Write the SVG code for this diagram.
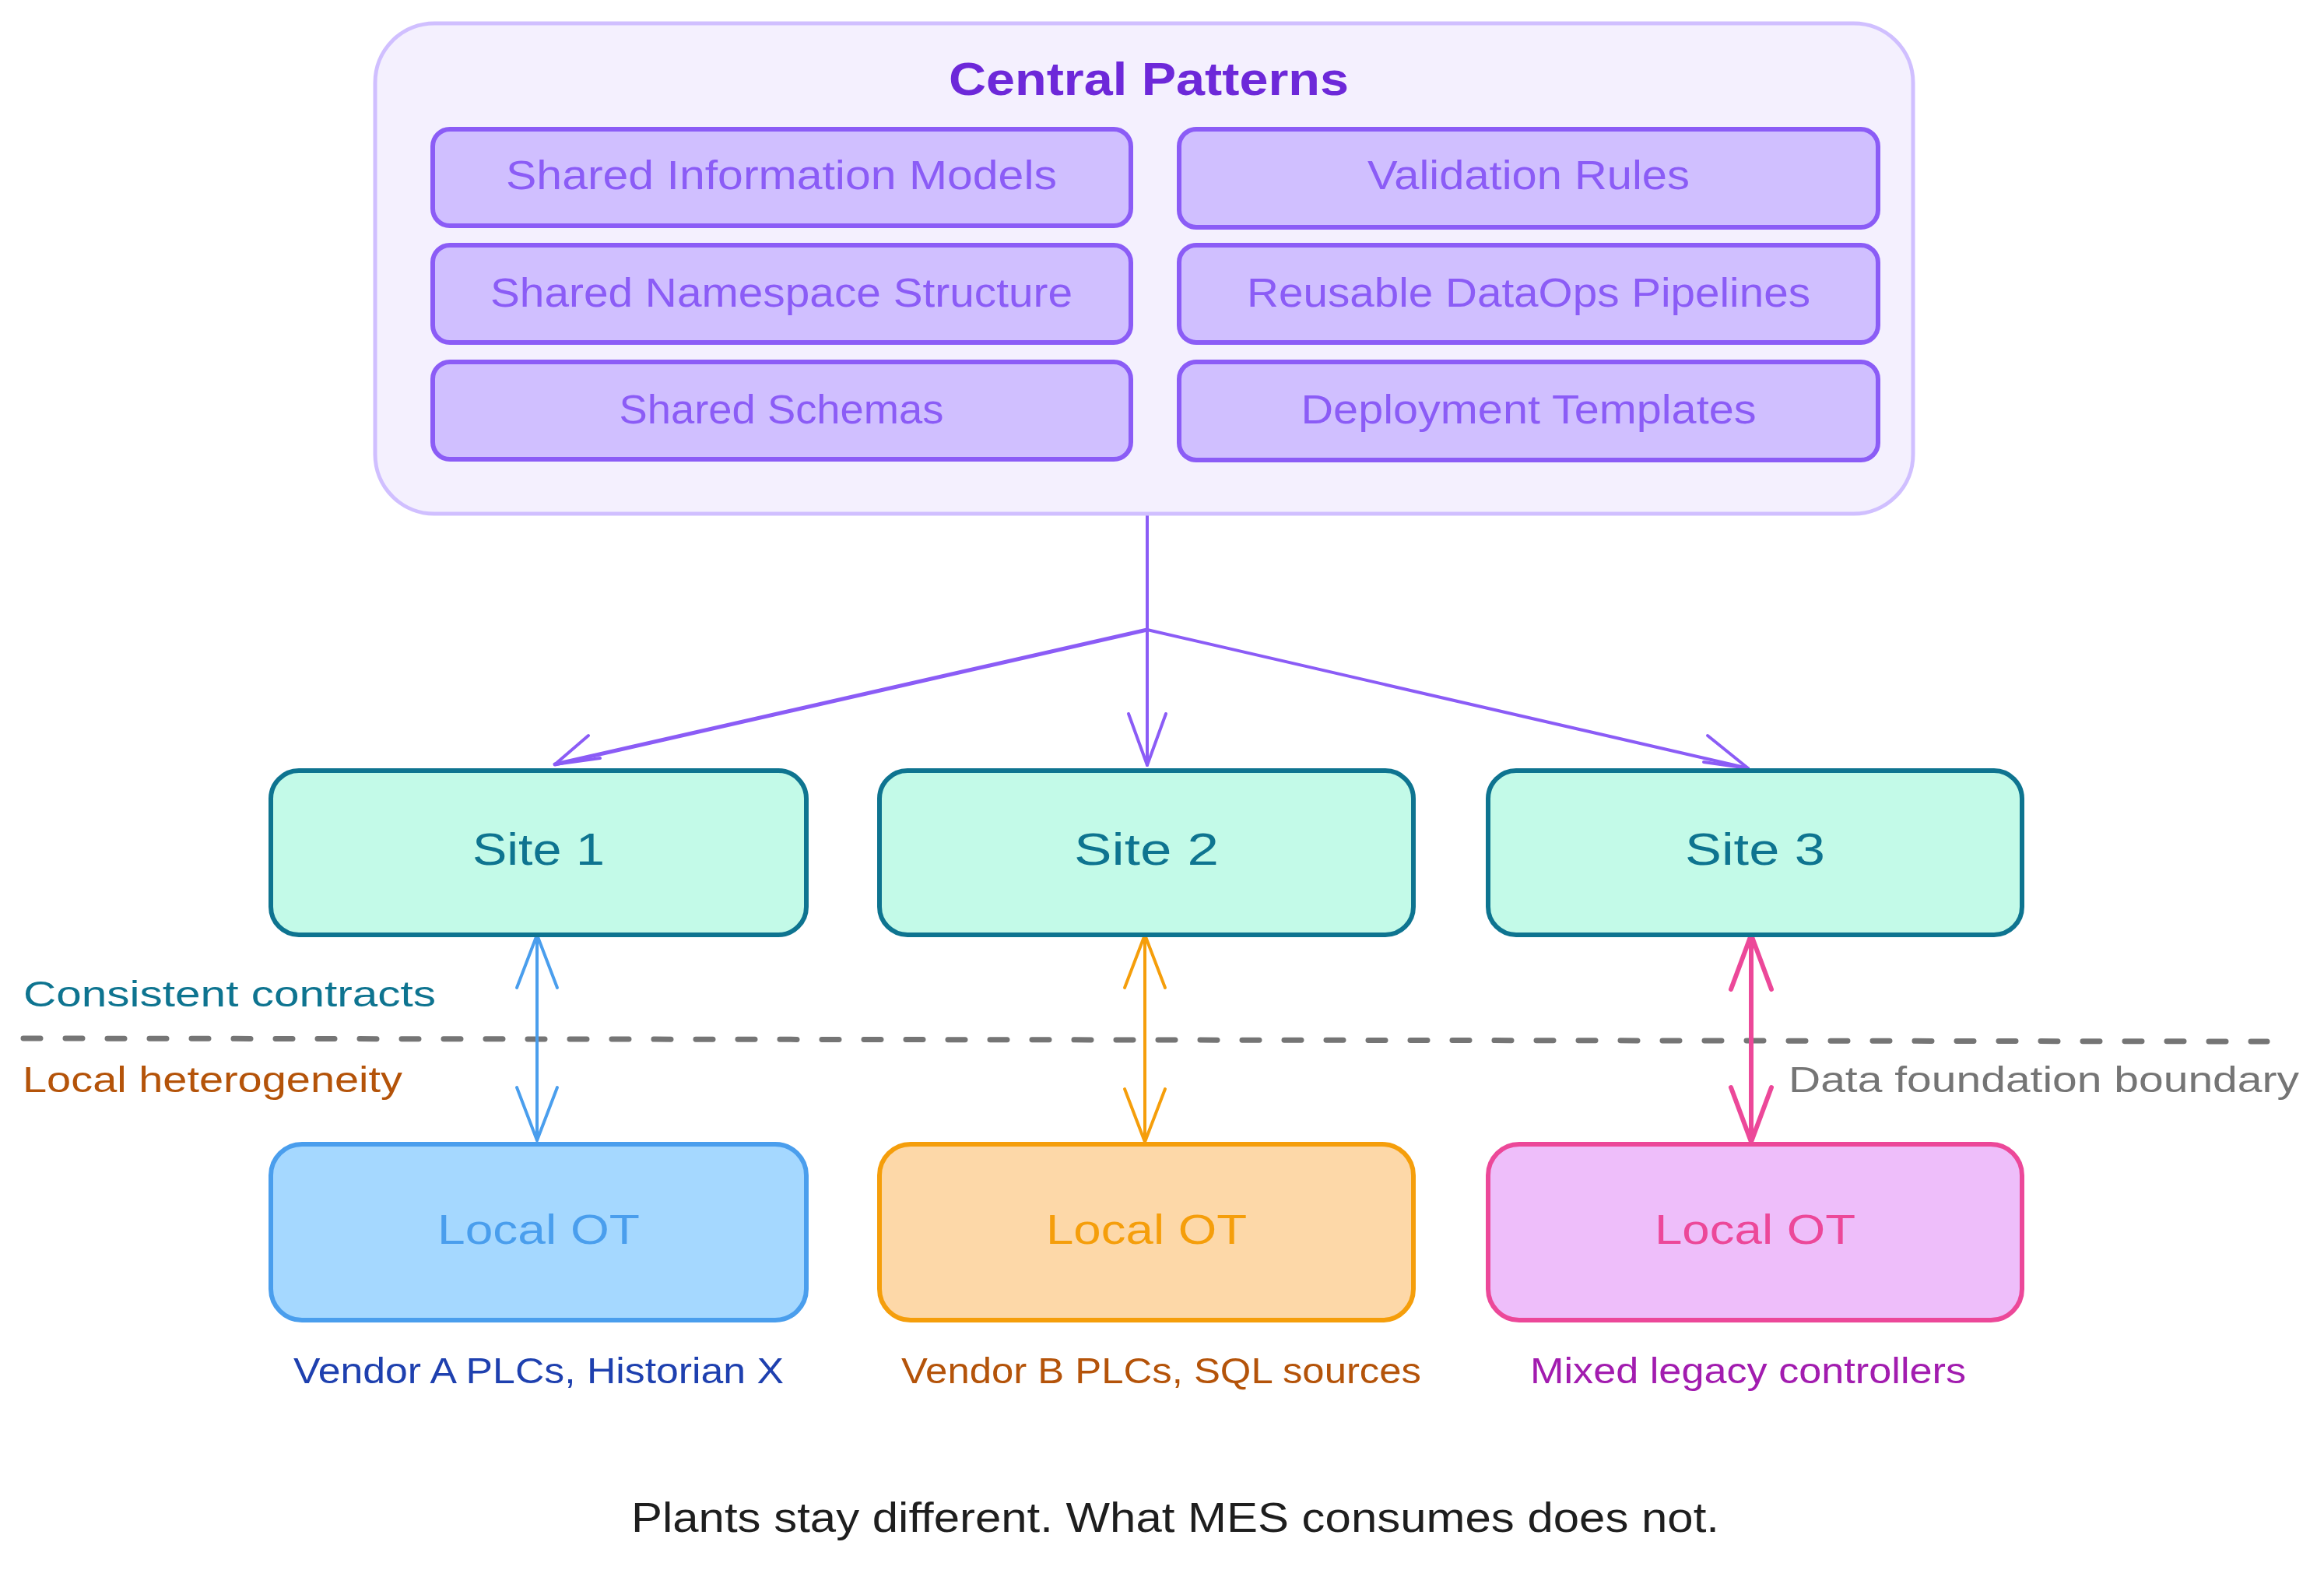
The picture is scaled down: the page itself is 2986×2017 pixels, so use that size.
<svg xmlns="http://www.w3.org/2000/svg" width="2986" height="2017" viewBox="0 0 2986 2017">
<defs>
<style>
text{font-family:"Liberation Sans","Noto Sans",sans-serif;text-anchor:middle}
.outer{fill:#f4f0fe;stroke:#d0bfff;stroke-width:5}
.pat{fill:#d0bfff;stroke:#8b5cf6;stroke-width:6}
.pat-t{fill:#8b5cf6;font-size:51px}
.site{fill:#c3fae8;stroke:#0e7490;stroke-width:6}
.site-t{fill:#0e7490;font-size:57px}
.ot-t{font-size:54px}
.cap{font-size:46px}
.conn{fill:none;stroke-linecap:round;stroke-linejoin:round}
</style>
<marker id="ah-p" markerUnits="userSpaceOnUse" viewBox="-80 -40 90 80" refX="0" refY="0" markerWidth="90" markerHeight="80" orient="auto-start-reverse"><path d="M-66,-24 L0,0 L-66,24" fill="none" stroke="#8b5cf6" stroke-width="4" stroke-linecap="round" stroke-linejoin="round"/></marker>
<marker id="ah-b" markerUnits="userSpaceOnUse" viewBox="-80 -40 90 80" refX="0" refY="0" markerWidth="90" markerHeight="80" orient="auto-start-reverse"><path d="M-68,-26 L0,0 L-68,26" fill="none" stroke="#4a9eed" stroke-width="4" stroke-linecap="round" stroke-linejoin="round"/></marker>
<marker id="ah-o" markerUnits="userSpaceOnUse" viewBox="-80 -40 90 80" refX="0" refY="0" markerWidth="90" markerHeight="80" orient="auto-start-reverse"><path d="M-68,-26 L0,0 L-68,26" fill="none" stroke="#f59e0b" stroke-width="4" stroke-linecap="round" stroke-linejoin="round"/></marker>
<marker id="ah-k" markerUnits="userSpaceOnUse" viewBox="-80 -40 90 80" refX="0" refY="0" markerWidth="90" markerHeight="80" orient="auto-start-reverse"><path d="M-70,-26 L0,0 L-70,26" fill="none" stroke="#ec4899" stroke-width="6" stroke-linecap="round" stroke-linejoin="round"/></marker>
</defs>
<rect width="2986" height="2017" fill="#ffffff"/>

<g id="boundary">
<line x1="30" y1="1334" x2="2913" y2="1338" stroke="#757575" stroke-width="7" stroke-dasharray="22 32" stroke-linecap="round"/>
</g>

<g id="connectors">
<path class="conn" d="M1474,659 L1474,809" stroke="#8b5cf6" stroke-width="4"/>
<path class="conn" d="M1474,809 L713,982" stroke="#8b5cf6" stroke-width="5"/>
<path class="conn" d="M756,945 L713,982 L771,974" stroke="#8b5cf6" stroke-width="4"/>
<path class="conn" d="M1474,809 L1474,983" stroke="#8b5cf6" stroke-width="4" marker-end="url(#ah-p)"/>
<path class="conn" d="M1474,809 L2246,987" stroke="#8b5cf6" stroke-width="4"/>
<path class="conn" d="M2194,945 L2246,987 L2189,979" stroke="#8b5cf6" stroke-width="4"/>
<path class="conn" d="M690,1201 L690,1465" stroke="#4a9eed" stroke-width="4" marker-start="url(#ah-b)" marker-end="url(#ah-b)"/>
<path class="conn" d="M1471,1201 L1471,1467" stroke="#f59e0b" stroke-width="4" marker-start="url(#ah-o)" marker-end="url(#ah-o)"/>
<path class="conn" d="M2250,1201 L2250,1467" stroke="#ec4899" stroke-width="6" marker-start="url(#ah-k)" marker-end="url(#ah-k)"/>
</g>

<g id="central-patterns">
<rect class="outer" x="482" y="30" width="1976" height="630" rx="76"/>
<text x="1476" y="122" style="fill:#6d28d9;font-size:60px;font-weight:bold" textLength="514" lengthAdjust="spacingAndGlyphs">Central Patterns</text>
</g>
<g id="shared-information-models">
<rect class="pat" x="556" y="166" width="897" height="124" rx="22"/>
<text class="pat-t" x="1004" y="243" textLength="708" lengthAdjust="spacingAndGlyphs">Shared Information Models</text>
</g>
<g id="validation-rules">
<rect class="pat" x="1515" y="166" width="898" height="126" rx="22"/>
<text class="pat-t" x="1964" y="243" textLength="414" lengthAdjust="spacingAndGlyphs">Validation Rules</text>
</g>
<g id="shared-namespace-structure">
<rect class="pat" x="556" y="315" width="897" height="125" rx="22"/>
<text class="pat-t" x="1004" y="394" textLength="748" lengthAdjust="spacingAndGlyphs">Shared Namespace Structure</text>
</g>
<g id="reusable-dataops-pipelines">
<rect class="pat" x="1515" y="315" width="898" height="125" rx="22"/>
<text class="pat-t" x="1964" y="394" textLength="724" lengthAdjust="spacingAndGlyphs">Reusable DataOps Pipelines</text>
</g>
<g id="shared-schemas">
<rect class="pat" x="556" y="465" width="897" height="125" rx="22"/>
<text class="pat-t" x="1004" y="544" textLength="417" lengthAdjust="spacingAndGlyphs">Shared Schemas</text>
</g>
<g id="deployment-templates">
<rect class="pat" x="1515" y="465" width="898" height="126" rx="22"/>
<text class="pat-t" x="1964" y="544" textLength="585" lengthAdjust="spacingAndGlyphs">Deployment Templates</text>
</g>

<g id="site-1">
<rect class="site" x="348" y="990" width="688" height="211" rx="36"/>
<text class="site-t" x="692" y="1111" textLength="170" lengthAdjust="spacingAndGlyphs">Site 1</text>
</g>
<g id="site-2">
<rect class="site" x="1130" y="990" width="686" height="211" rx="36"/>
<text class="site-t" x="1473" y="1111" textLength="186" lengthAdjust="spacingAndGlyphs">Site 2</text>
</g>
<g id="site-3">
<rect class="site" x="1912" y="990" width="686" height="211" rx="36"/>
<text class="site-t" x="2255" y="1111" textLength="180" lengthAdjust="spacingAndGlyphs">Site 3</text>
</g>

<g id="local-ot-1">
<rect x="348" y="1470" width="688" height="226" rx="40" fill="#a5d8ff" stroke="#4a9eed" stroke-width="6"/>
<text class="ot-t" x="692" y="1598" fill="#4a9eed" textLength="260" lengthAdjust="spacingAndGlyphs">Local OT</text>
</g>
<g id="local-ot-2">
<rect x="1130" y="1470" width="686" height="226" rx="40" fill="#fdd8a8" stroke="#f59e0b" stroke-width="6"/>
<text class="ot-t" x="1473" y="1598" fill="#f59e0b" textLength="258" lengthAdjust="spacingAndGlyphs">Local OT</text>
</g>
<g id="local-ot-3">
<rect x="1912" y="1470" width="686" height="226" rx="40" fill="#eebefa" stroke="#ec4899" stroke-width="6"/>
<text class="ot-t" x="2255" y="1598" fill="#ec4899" textLength="258" lengthAdjust="spacingAndGlyphs">Local OT</text>
</g>

<g id="labels">
<text class="cap" x="295" y="1293" fill="#0e7490" textLength="530" lengthAdjust="spacingAndGlyphs">Consistent contracts</text>
<text class="cap" x="273" y="1403" fill="#b45309" textLength="488" lengthAdjust="spacingAndGlyphs">Local heterogeneity</text>
<text class="cap" x="2626" y="1403" fill="#757575" textLength="656" lengthAdjust="spacingAndGlyphs">Data foundation boundary</text>
<text class="cap" x="692" y="1777" fill="#1e40af" textLength="630" lengthAdjust="spacingAndGlyphs">Vendor A PLCs, Historian X</text>
<text class="cap" x="1492" y="1777" fill="#b45309" textLength="668" lengthAdjust="spacingAndGlyphs">Vendor B PLCs, SQL sources</text>
<text class="cap" x="2246" y="1777" fill="#a21caf" textLength="560" lengthAdjust="spacingAndGlyphs">Mixed legacy controllers</text>
<text x="1510" y="1968" fill="#1e1e1e" style="font-size:54px" textLength="1398" lengthAdjust="spacingAndGlyphs">Plants stay different. What MES consumes does not.</text>
</g>
</svg>
